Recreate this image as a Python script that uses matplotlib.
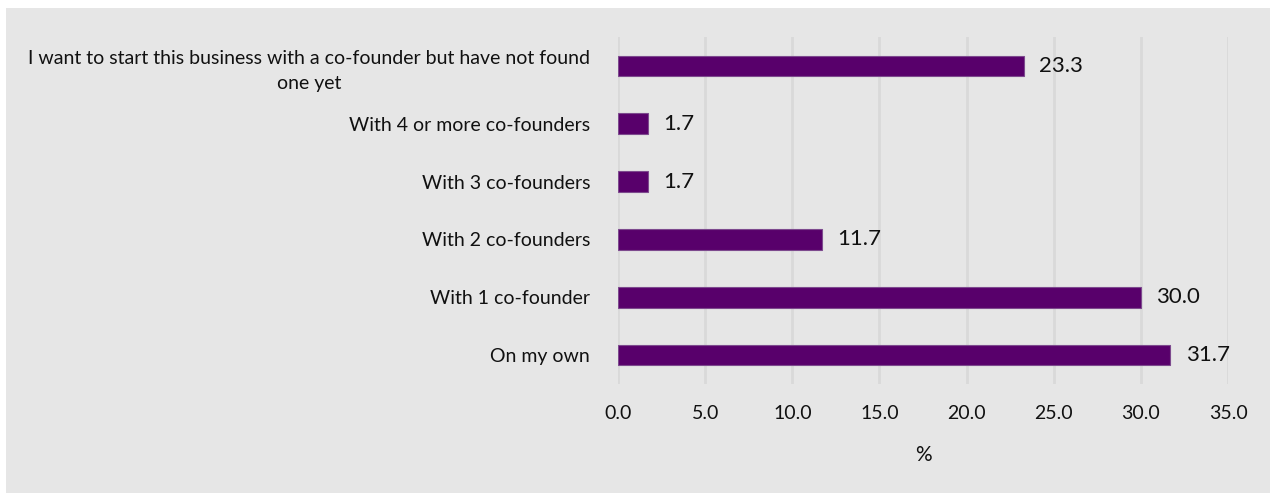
import matplotlib
matplotlib.use("Agg")
import matplotlib.pyplot as plt
from matplotlib.patches import Rectangle

plt.rcParams['font.family'] = ['Lato', 'DejaVu Sans']

categories = [
    "On my own",
    "With 1 co-founder",
    "With 2 co-founders",
    "With 3 co-founders",
    "With 4 or more co-founders",
    "I want to start this business with a co-founder but have not found\none yet",
]
values = [31.7, 30.0, 11.7, 1.7, 1.7, 23.3]
xticks = [0, 5, 10, 15, 20, 25, 30, 35]

W, H = 1270, 493
fig = plt.figure(figsize=(W / 100, H / 100), dpi=100)
fig.patch.set_facecolor("white")
fig.add_artist(Rectangle((6 / W, 0), 1 - 6 / W, (H - 8) / H, transform=fig.transFigure,
                         facecolor="#e6e6e6", edgecolor="none", zorder=0))

ax = fig.add_axes([618 / W, 1 - 384 / H, 610 / W, 347 / H])
ax.set_facecolor("none")

pos = list(range(len(categories)))
ax.barh(pos, values, height=0.36, color="#58006b", edgecolor="#7d4a8e", linewidth=0.8, zorder=3)
for p, v in zip(pos, values):
    ax.annotate(f"{v:.1f}", (v, p), xytext=(11, 0), textcoords="offset points",
                ha="left", va="center", fontsize=16, color="#111111")

ax.set_xlim(0, 35)
ax.set_ylim(-0.5, len(categories) - 0.5)
ax.set_xticks(xticks)
ax.set_xticklabels([f"{t:.1f}" for t in xticks], fontsize=14, color="#111111")
ax.set_yticks(pos)
ax.set_yticklabels(categories, fontsize=14, color="#111111", multialignment="center",
                   linespacing=1.55)
ax.tick_params(axis="both", length=0)
ax.tick_params(axis="y", pad=20)
ax.tick_params(axis="x", pad=15)
ax.grid(axis="x", color="#d9d9d9", linewidth=2, zorder=1)
ax.set_axisbelow(True)
for s in ax.spines.values():
    s.set_visible(False)
ax.set_xlabel("%", fontsize=15, color="#111111", labelpad=17)

fig.savefig("out.png", dpi=100)
